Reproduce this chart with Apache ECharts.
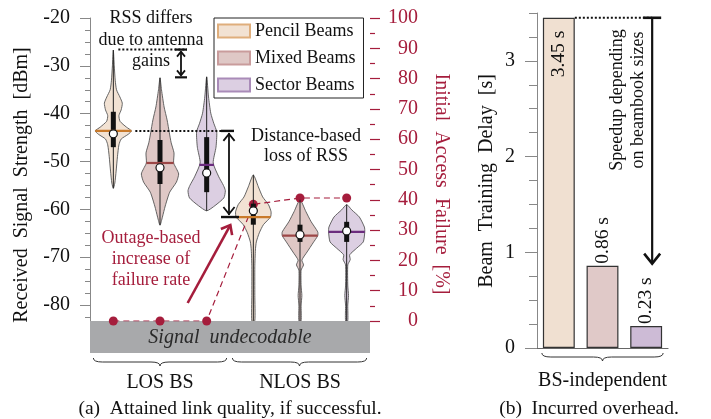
<!DOCTYPE html>
<html>
<head>
<meta charset="utf-8">
<script src="https://cdn.jsdelivr.net/npm/echarts@6/dist/echarts.min.js"></script>
<style>
html, body { margin: 0; padding: 0; background: #fff; }
#main { width: 711px; height: 419px; }
</style>
</head>
<body>
<div id="main"></div>
<script>
// beam configurations and BS groups
var beams = ['Pencil Beams', 'Mixed Beams', 'Sector Beams'];
var bsGroups = ['LOS BS', 'NLOS BS'];

// RSS violin outlines: [dBm, relative half width]
var pencilLos = [[-26.7, 0], [-30, 0.05], [-33, 0.1], [-35, 0.17], [-36.5, 0.35], [-37.8, 0.48], [-39.2, 0.42],
  [-40.4, 0.3], [-41.6, 0.36], [-42.8, 0.7], [-43.6, 0.97], [-44.3, 0.8], [-45.3, 0.42], [-46.5, 0.3],
  [-49, 0.22], [-52, 0.15], [-54.5, 0.08], [-55.6, 0]];
var mixedLos = [[-32.5, 0], [-35, 0.08], [-38.6, 0.22], [-41.3, 0.38], [-44, 0.5], [-46.1, 0.6], [-48.2, 0.75],
  [-50.3, 0.73], [-51.5, 0.88], [-52.6, 1.0], [-54.3, 0.88], [-56.4, 0.52], [-59.3, 0.28], [-61.6, 0.13], [-63.3, 0]];
var sectorLos = [[-32.3, 0], [-36.5, 0.1], [-39.9, 0.22], [-42, 0.38], [-43.8, 0.54], [-47, 0.5], [-50.3, 0.35],
  [-53.2, 0.65], [-55, 0.9], [-56.1, 1.0], [-57.6, 0.92], [-59.2, 0.45], [-60.3, 0]];
var pencilNlos = [[-52.8, 0], [-55.3, 0.27], [-57.4, 0.5], [-59, 0.81], [-60.5, 0.95], [-61.6, 0.92], [-63.2, 0.54],
  [-64.9, 0.32], [-66.8, 0.16], [-68.5, 0.11], [-72, 0.08], [-78, 0.08], [-83.3, 0.08]];
var mixedNlos = [[-58, 0], [-60.5, 0.32], [-62.6, 0.6], [-64.7, 0.95], [-65.5, 0.95], [-67, 0.7], [-68.9, 0.38],
  [-70.6, 0.1], [-71.6, 0.19], [-72.7, 0.06], [-76, 0.06], [-78, 0.1], [-80, 0.06], [-83.3, 0.06]];
var sectorNlos = [[-59, 0], [-60.1, 0.27], [-61.6, 0.68], [-63.7, 0.95], [-64.7, 0.97], [-66.8, 0.89], [-68.1, 0.54],
  [-69.5, 0.16], [-70.5, 0.19], [-71.6, 0.06], [-76, 0.06], [-78, 0.1], [-80, 0.06], [-83.3, 0.06]];

// per violin: LOS pencil/mixed/sector, then NLOS pencil/mixed/sector
var rssMedian = [-43.6, -50.3, -50.7, -61.6, -65.5, -64.7];
var rssMean = [-44.2, -51.3, -52.4, -60.3, -65.3, -64.5];
var rssUpperQ = [-39.6, -45.5, -44.9, -58.8, -63.2, -62.6];
var rssLowerQ = [-47.0, -54.7, -56.4, -63.2, -66.8, -66.8];
var failureRate = [0, 0, 0, 38.5, 40.6, 40.6];

var rssMin = -83.33;
var rssTicks = [-80, -70, -60, -50, -40, -30, -20];
var rssMinorTicks = [-82.5, -77.5, -75, -72.5, -67.5, -65, -62.5, -57.5, -55, -52.5, -47.5, -45, -42.5,
  -37.5, -35, -32.5, -27.5, -25, -22.5];

// beam training delay [s]
var delay = [3.45, 0.86, 0.23];
var delayTicks = [0, 1, 2, 3];
var delayMinorTicks = [0.25, 0.5, 0.75, 1.25, 1.5, 1.75, 2.25, 2.5, 2.75, 3.25, 3.5];

var serif = "'Liberation Serif', 'DejaVu Serif', serif";
var red = '#a51d3c';
var fills = ['#f2e2d3', '#dfc8c6', '#dccfe2'];
var edges = ['#dfae7c', '#c99c9c', '#a98bb8'];
var medianColors = ['#c97a2a', '#9c4646', '#6b2c7e'];
var barFills = ['#f0e0d1', '#e0c9c8', '#cdbbd6'];

var profiles = [pencilLos, mixedLos, sectorLos, pencilNlos, mixedNlos, sectorNlos];
var slots = [];
bsGroups.forEach(function (g) {
  beams.forEach(function (b) { slots.push(g + ' ' + b); });
});

function widthAt(prof, v) {
  for (var k = 1; k < prof.length; k++) {
    var a = prof[k - 1], b = prof[k];
    if (v <= a[0] && v >= b[0]) {
      return a[1] + (b[1] - a[1]) * (a[0] - v) / (a[0] - b[0]);
    }
  }
  return 0;
}

function bodySeries(b) {
  return {
    type: 'custom',
    name: beams[b],
    coordinateSystem: 'cartesian2d',
    xAxisIndex: 0,
    yAxisIndex: 0,
    z: 2,
    itemStyle: { color: fills[b], borderColor: '#555' },
    data: [[b, rssMedian[b]], [b + 3, rssMedian[b + 3]]],
    encode: { x: 0, y: 1 },
    renderItem: function (params, api) {
      var i = api.value(0);
      var prof = profiles[i];
      var half = api.size([1, 0])[0] * 0.4;
      var left = [], right = [];
      prof.forEach(function (p) {
        var c = api.coord([i, p[0]]);
        if (p[1] === 0) {
          left.push([c[0], c[1]]);
          return;
        }
        left.push([c[0] - p[1] * half, c[1]]);
        right.unshift([c[0] + p[1] * half, c[1]]);
      });
      var pts;
      if (prof[prof.length - 1][1] === 0) {
        var tip = left.pop();
        pts = left.concat([tip]).concat(right);
      } else {
        pts = left.concat(right);
      }
      return {
        type: 'polygon',
        shape: { points: pts, smooth: 0.2 },
        style: { fill: fills[b], stroke: '#555', lineWidth: 0.9 }
      };
    }
  };
}

var innerSeries = {
  type: 'custom',
  name: 'stats',
  coordinateSystem: 'cartesian2d',
  xAxisIndex: 0,
  yAxisIndex: 0,
  z: 4,
  data: slots.map(function (s, i) { return [i, rssMedian[i]]; }),
  encode: { x: 0, y: 1 },
  renderItem: function (params, api) {
    var i = api.value(0);
    var prof = profiles[i];
    var half = api.size([1, 0])[0] * 0.4;
    var c = api.coord([i, rssMedian[i]]);
    var x = c[0];
    var top = api.coord([i, prof[0][0]])[1];
    var bot = api.coord([i, prof[prof.length - 1][0]])[1];
    var q3 = api.coord([i, rssUpperQ[i]])[1];
    var q1 = api.coord([i, rssLowerQ[i]])[1];
    var mean = api.coord([i, rssMean[i]])[1];
    var w = widthAt(prof, rssMedian[i]) * half;
    return {
      type: 'group',
      children: [
        { type: 'line', shape: { x1: x, y1: top, x2: x, y2: bot }, style: { stroke: '#222', lineWidth: 1 } },
        { type: 'rect', shape: { x: x - 2.5, y: q3, width: 5, height: q1 - q3 }, style: { fill: '#111' } },
        { type: 'line', shape: { x1: x - w, y1: c[1], x2: x + w, y2: c[1] },
          style: { stroke: medianColors[i % 3], lineWidth: 2.2 } },
        { type: 'circle', shape: { cx: x, cy: mean, r: 4 }, style: { fill: '#fff', stroke: '#111', lineWidth: 1.2 } }
      ]
    };
  }
};

var chart = echarts.init(document.getElementById('main'));

var option = {
  animation: false,
  textStyle: { fontFamily: serif, color: '#111' },
  grid: [
    { left: 90, top: 18, width: 280, height: 303 },
    { left: 537, top: 13, width: 131, height: 335 }
  ],
  legend: {
    left: 214,
    top: 18,
    orient: 'vertical',
    padding: [4, 8, 4, 3],
    itemGap: 9,
    itemWidth: 32,
    itemHeight: 13,
    icon: 'rect',
    borderColor: '#222',
    borderWidth: 1,
    borderRadius: 0,
    backgroundColor: '#fff',
    textStyle: { fontSize: 18, fontFamily: serif, color: '#111' },
    data: beams.map(function (b, k) {
      return { name: b, itemStyle: { color: fills[k], borderColor: edges[k], borderWidth: 2 } };
    })
  },
  xAxis: [
    { gridIndex: 0, type: 'category', data: slots, show: false },
    {
      gridIndex: 1, type: 'category', data: beams,
      axisLine: { lineStyle: { color: '#666', width: 1.2 } },
      axisTick: { show: false },
      axisLabel: { show: false }
    }
  ],
  yAxis: [
    {
      gridIndex: 0, position: 'left', min: rssMin, max: -20,
      axisLine: { show: true, lineStyle: { color: '#888' } },
      axisTick: { show: true, length: 10, customValues: rssTicks, lineStyle: { color: '#888' } },
      axisLabel: { customValues: rssTicks, fontSize: 20, margin: 20, color: '#111' },
      splitLine: { show: false }
    },
    {
      gridIndex: 0, position: 'left', min: rssMin, max: -20,
      axisLine: { show: false },
      axisTick: { show: true, length: 5, customValues: rssMinorTicks, lineStyle: { color: '#888' } },
      axisLabel: { show: false },
      splitLine: { show: false }
    },
    {
      gridIndex: 0, position: 'right', min: 0, max: 100, interval: 10,
      axisLine: { show: false },
      axisTick: { show: true, length: 10, lineStyle: { color: red, width: 1.2 } },
      minorTick: { show: true, splitNumber: 2, length: 5, lineStyle: { color: red, width: 1.2 } },
      axisLabel: { fontSize: 20, color: red, align: 'right', margin: 48 },
      splitLine: { show: false }
    },
    {
      gridIndex: 1, position: 'left', min: 0, max: 3.5,
      axisLine: { show: true, lineStyle: { color: '#888' } },
      axisTick: { show: true, length: 12, customValues: delayTicks, lineStyle: { color: '#888' } },
      axisLabel: { customValues: delayTicks, fontSize: 20, margin: 22, color: '#111' },
      splitLine: { show: false }
    },
    {
      gridIndex: 1, position: 'left', min: 0, max: 3.5,
      axisLine: { show: false },
      axisTick: { show: true, length: 8, customValues: delayMinorTicks, lineStyle: { color: '#888' } },
      axisLabel: { show: false },
      splitLine: { show: false }
    }
  ],
  series: [
    bodySeries(0),
    bodySeries(1),
    bodySeries(2),
    {
      type: 'line',
      name: 'failure',
      xAxisIndex: 0,
      yAxisIndex: 2,
      z: 3,
      data: failureRate,
      symbol: 'circle',
      symbolSize: 9,
      itemStyle: { color: red },
      lineStyle: { color: red, width: 1.2, type: [6, 4] }
    },
    innerSeries,
    {
      type: 'bar',
      name: 'delay',
      xAxisIndex: 1,
      yAxisIndex: 3,
      barWidth: '73%',
      data: delay.map(function (v, k) {
        var lab = k === 0
          ? { position: 'insideTop', rotate: 90, align: 'right', verticalAlign: 'middle', distance: 13 }
          : { position: 'top', rotate: 90, align: 'left', verticalAlign: 'middle', distance: 2 };
        return { value: v, itemStyle: { color: barFills[k] }, label: lab };
      }),
      itemStyle: { borderColor: '#333', borderWidth: 1.2 },
      label: {
        show: true, fontSize: 19.5, fontFamily: serif, color: '#111',
        formatter: function (p) { return p.value + ' s'; }
      }
    }
  ]
};
chart.setOption(option);

// annotations placed through the axes
function px(i) { return chart.convertToPixel({ xAxisIndex: 0 }, i); }
function py(v) { return chart.convertToPixel({ yAxisIndex: 0 }, v); }
function pf(v) { return chart.convertToPixel({ yAxisIndex: 2 }, v); }
function bx(i) { return chart.convertToPixel({ xAxisIndex: 1 }, i); }
function by(v) { return chart.convertToPixel({ yAxisIndex: 3 }, v); }

function txt(x, y, s, opt) {
  opt = opt || {};
  return {
    type: 'text', x: x, y: y, z: 20,
    rotation: opt.rotation || 0,
    style: {
      text: s, fontSize: opt.size || 18, fontFamily: serif,
      fontStyle: opt.italic ? 'italic' : 'normal',
      fill: opt.color || '#111',
      align: 'center', verticalAlign: 'middle',
      textAlign: 'center', textVerticalAlign: 'middle',
      lineHeight: opt.lh || 21
    }
  };
}
function seg(x1, y1, x2, y2, color, w, dash) {
  var st = { stroke: color || '#111', lineWidth: w || 1.8 };
  if (dash) st.lineDash = dash;
  return { type: 'line', z: 20, shape: { x1: x1, y1: y1, x2: x2, y2: y2 }, style: st };
}
function chevron(x, y, dx, dy, size, color, w) {
  // arrow head with tip at (x, y) pointing along (dx, dy)
  var len = Math.sqrt(dx * dx + dy * dy);
  var ux = dx / len, uy = dy / len;
  var bx0 = x - ux * size, by0 = y - uy * size;
  return {
    type: 'polyline', z: 20,
    shape: { points: [[bx0 - uy * size * 0.8, by0 + ux * size * 0.8], [x, y], [bx0 + uy * size * 0.8, by0 - ux * size * 0.8]] },
    style: { stroke: color || '#111', lineWidth: w || 1.8, fill: 'none' }
  };
}
function curve(x1, y1, cx, cy, x2, y2) {
  return { type: 'bezierCurve', z: 20,
    shape: { x1: x1, y1: y1, cpx1: cx, cpy1: cy, x2: x2, y2: y2 },
    style: { stroke: '#333', lineWidth: 1, fill: 'none' } };
}
function brace(x1, x2, y) {
  var h = 8, r = 9, xm = (x1 + x2) / 2, ym = y + h / 2;
  return [
    curve(x1, y, x1, ym, x1 + r, ym),
    seg(x1 + r, ym, xm - r, ym, '#333', 1),
    curve(xm - r, ym, xm, ym, xm, y + h),
    curve(xm, y + h, xm, ym, xm + r, ym),
    seg(xm + r, ym, x2 - r, ym, '#333', 1),
    curve(x2 - r, ym, x2, ym, x2, y)
  ];
}

var g = [];
var gridL = 90, gridR = 370;
var floorY = pf(0);

// undecodable region
g.push({ type: 'rect', z: 2.5, shape: { x: gridL, y: floorY, width: gridR - gridL, height: 32 },
  style: { fill: '#a8a9ab' } });
g.push(txt((gridL + gridR) / 2, floorY + 17, 'Signal  undecodable', { size: 20, italic: true, color: '#2a2a2a' }));

// groups and captions
g = g.concat(brace(px(0) - 20, px(2) + 20, floorY + 37));
g = g.concat(brace(px(3) - 21, px(5) + 20, floorY + 37));
g.push(txt(px(1), 383, bsGroups[0], { size: 20 }));
g.push(txt(px(4), 383, bsGroups[1], { size: 20 }));
g.push(txt(230, 409, '(a)  Attained link quality, if successful.', { size: 19.5 }));

// axis titles
g.push(txt(22, 185, 'Received  Signal  Strength  [dBm]', { size: 20, rotation: Math.PI / 2 }));
g.push(txt(441, 184, 'Initial  Access  Failure  [%]', { size: 20, rotation: -Math.PI / 2, color: red }));

// antenna gain difference
var xs = 181;
g.push(seg(px(0) + 5, py(-26.6), xs + 6, py(-26.6), '#111', 2, [2, 2]));
g.push(seg(xs - 6, py(-26.6), xs + 6, py(-26.6), '#111', 2.2));
g.push(seg(xs - 6, py(-32.4), xs + 6, py(-32.4), '#111', 2.2));
g.push(seg(xs, py(-26.6) + 2, xs, py(-32.4) - 2, '#111', 1.8));
g.push(chevron(xs, py(-26.6) + 2, 0, -1, 5));
g.push(chevron(xs, py(-32.4) - 2, 0, 1, 5));
g.push(txt(151, 40, 'RSS differs\ndue to antenna\ngains', { size: 18, lh: 21.5 }));

// distance-based loss
var xd = 229;
var yTop = py(rssMedian[0]), yBot = py(rssMedian[3]);
g.push(seg(px(0) + 22, yTop, xd + 5, yTop, '#111', 2, [2, 2]));
g.push(seg(xd - 8, yTop, xd + 5, yTop, '#111', 2.4));
g.push(seg(xd - 8, yBot, xd + 10, yBot, '#111', 2.4));
g.push(seg(xd, yTop + 2, xd, yBot - 2, '#111', 1.8));
g.push(chevron(xd, yTop + 3, 0, -1, 7));
g.push(chevron(xd, yBot - 3, 0, 1, 7));
g.push(txt(306, 146, 'Distance-based\nloss of RSS', { size: 18, lh: 20 }));

// outage note
g.push(txt(151, 259, 'Outage-based\nincrease of\nfailure rate', { size: 18, lh: 21, color: red }));
var ax0 = px(2) - 19, ay0 = 303, ax1 = px(3) - 23, ay1 = py(rssMedian[3]) + 8;
g.push(seg(ax0, ay0, ax1, ay1, red, 2.6));
g.push(chevron(ax1, ay1, ax1 - ax0, ay1 - ay0, 8, red, 2.6));

// right panel
g.push(txt(487, 181, 'Beam  Training  Delay  [s]', { size: 20, rotation: Math.PI / 2 }));
g = g.concat(brace(bx(0) - 17, bx(2) + 17, 353));
g.push(txt(bx(1), 381, 'BS-independent', { size: 20 }));
g.push(txt(589, 409, '(b)  Incurred overhead.', { size: 19.5 }));
var xa = bx(2) + 6;
g.push(seg(bx(0) + 16, by(delay[0]), xa, by(delay[0]), '#111', 2, [2, 2]));
g.push(seg(xa - 9, by(delay[0]), xa + 9, by(delay[0]), '#111', 2.6));
g.push(seg(xa, by(delay[0]), xa, by(delay[1]) - 2, '#111', 2.2));
g.push(chevron(xa, by(delay[1]) - 2, 0, 1, 10, '#111', 2.6));
g.push(txt(bx(1) + 25, 100, 'Speedup depending\non beambook sizes', { size: 18, lh: 21, rotation: Math.PI / 2 }));

chart.setOption({ graphic: { elements: g } });
</script>
</body>
</html>
